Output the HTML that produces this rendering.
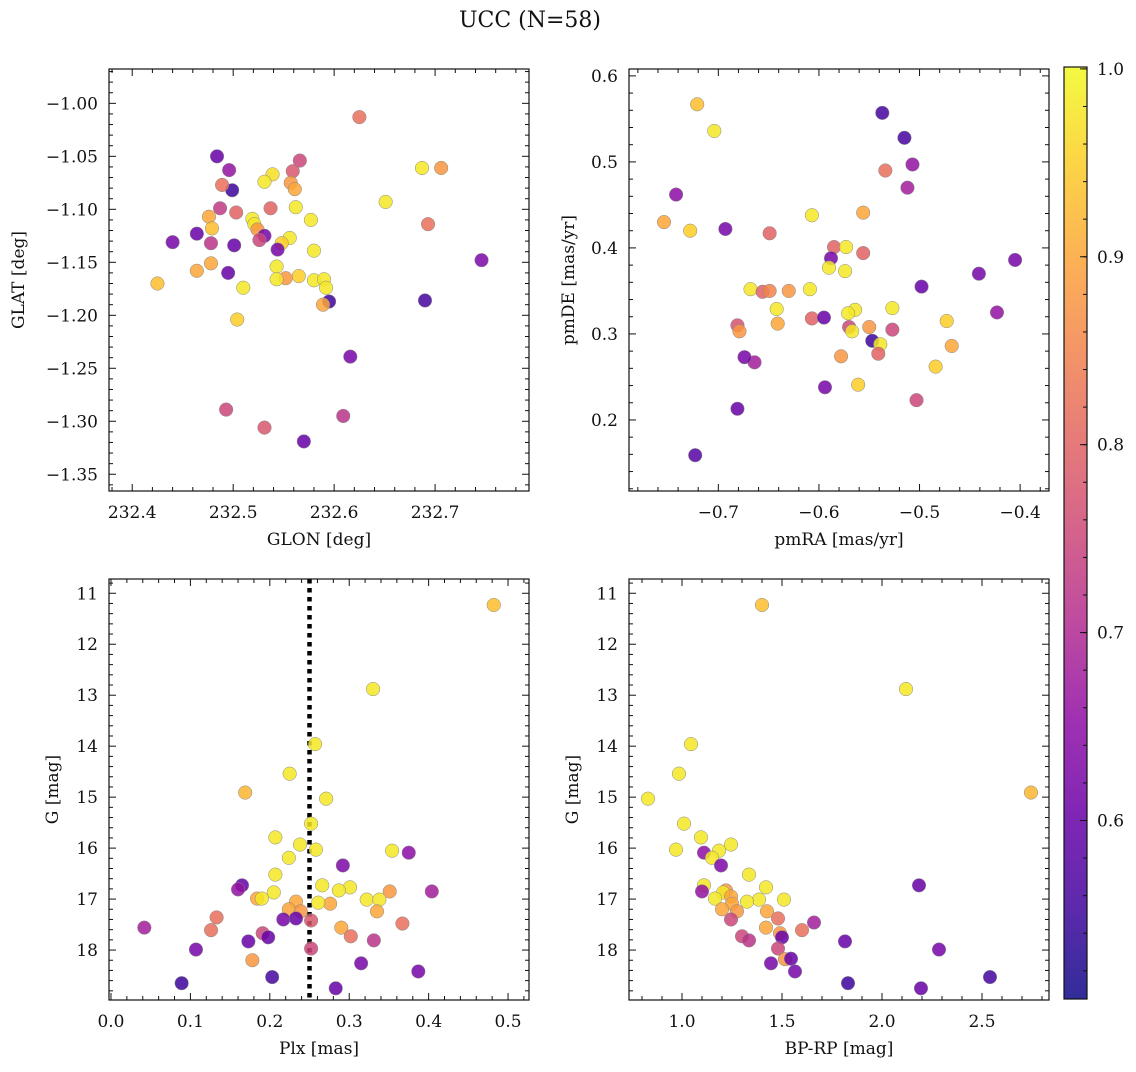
<!DOCTYPE html>
<html><head><meta charset="utf-8">
<style>
html,body{margin:0;padding:0;background:#fff;}
svg text{font-family:"DejaVu Serif","Liberation Serif",serif;fill:#111;}
</style></head>
<body>
<svg id="fig" width="1136" height="1067" xmlns="http://www.w3.org/2000/svg">
<text x="530" y="27" text-anchor="middle" font-size="22">UCC (N=58)</text>
</svg>
<script>
// ---- data: panel 1 (GLON vs GLAT)
const p1Glon=[232.625,232.484,232.496,232.566,232.559,232.539,232.499,232.489,232.531,232.557,232.561,232.687,232.706,232.651,232.487,232.503,232.537,232.562,232.476,232.519,232.521,232.577,232.479,232.524,232.693,232.464,232.531,232.526,232.556,232.440,232.478,232.501,232.548,232.544,232.580,232.746,232.478,232.464,232.495,232.543,232.565,232.552,232.543,232.580,232.590,232.425,232.510,232.592,232.595,232.589,232.690,232.504,232.616,232.493,232.531,232.609,232.570];
const p1Glat=[-1.013,-1.050,-1.063,-1.054,-1.064,-1.067,-1.082,-1.077,-1.074,-1.075,-1.081,-1.061,-1.061,-1.093,-1.099,-1.103,-1.099,-1.098,-1.107,-1.109,-1.114,-1.110,-1.118,-1.119,-1.114,-1.123,-1.125,-1.129,-1.127,-1.131,-1.132,-1.134,-1.132,-1.138,-1.139,-1.148,-1.151,-1.158,-1.160,-1.154,-1.163,-1.165,-1.166,-1.167,-1.166,-1.170,-1.174,-1.174,-1.187,-1.190,-1.186,-1.204,-1.239,-1.289,-1.306,-1.295,-1.319];
const p1Prob=[0.82,0.6,0.66,0.75,0.78,0.97,0.55,0.82,0.98,0.88,0.9,0.98,0.88,0.98,0.73,0.8,0.8,0.98,0.9,0.98,0.98,0.98,0.93,0.88,0.82,0.6,0.62,0.75,0.98,0.62,0.72,0.6,0.95,0.62,0.98,0.63,0.9,0.9,0.6,0.98,0.95,0.88,0.98,0.98,0.98,0.93,0.98,0.98,0.55,0.9,0.56,0.95,0.62,0.75,0.78,0.72,0.6];
// ---- data: panel 2 (pmRA vs pmDE)
const p2PmRA=[-0.721,-0.704,-0.537,-0.515,-0.507,-0.742,-0.534,-0.512,-0.754,-0.728,-0.693,-0.649,-0.607,-0.556,-0.585,-0.573,-0.588,-0.556,-0.405,-0.590,-0.574,-0.668,-0.630,-0.609,-0.656,-0.649,-0.441,-0.498,-0.642,-0.564,-0.571,-0.527,-0.423,-0.681,-0.679,-0.641,-0.607,-0.595,-0.570,-0.567,-0.550,-0.527,-0.473,-0.468,-0.547,-0.539,-0.541,-0.664,-0.674,-0.578,-0.561,-0.594,-0.484,-0.503,-0.681,-0.723];
const p2PmDE=[0.567,0.536,0.557,0.528,0.497,0.462,0.490,0.470,0.430,0.420,0.422,0.417,0.438,0.441,0.401,0.401,0.388,0.394,0.386,0.377,0.373,0.352,0.350,0.352,0.349,0.350,0.370,0.355,0.329,0.328,0.324,0.330,0.325,0.310,0.303,0.312,0.318,0.319,0.308,0.303,0.308,0.305,0.315,0.286,0.292,0.288,0.277,0.267,0.273,0.274,0.241,0.238,0.262,0.223,0.213,0.159];
const p2Prob=[0.93,0.98,0.56,0.56,0.66,0.65,0.82,0.68,0.9,0.95,0.62,0.8,0.98,0.9,0.8,0.98,0.62,0.8,0.62,0.98,0.98,0.98,0.88,0.98,0.8,0.85,0.62,0.6,0.98,0.98,0.98,0.98,0.66,0.77,0.88,0.9,0.8,0.6,0.75,0.98,0.88,0.75,0.95,0.9,0.55,0.98,0.8,0.68,0.62,0.88,0.95,0.62,0.95,0.75,0.6,0.58];
// ---- data: panel 3 (Plx vs G)
const p3Plx=[0.482,0.330,0.257,0.225,0.169,0.271,0.252,0.207,0.238,0.354,0.375,0.258,0.224,0.207,0.292,0.165,0.266,0.160,0.301,0.287,0.205,0.404,0.351,0.184,0.190,0.233,0.276,0.322,0.338,0.224,0.239,0.261,0.335,0.367,0.133,0.217,0.233,0.252,0.042,0.290,0.126,0.191,0.302,0.198,0.331,0.173,0.252,0.107,0.178,0.315,0.387,0.203,0.089,0.283];
const p3G=[11.23,12.88,13.96,14.54,14.91,15.03,15.52,15.79,15.93,16.05,16.09,16.03,16.19,16.52,16.34,16.73,16.73,16.81,16.77,16.83,16.87,16.85,16.85,16.99,16.99,17.05,17.09,17.01,17.01,17.20,17.24,17.07,17.24,17.48,17.36,17.40,17.38,17.42,17.56,17.56,17.61,17.67,17.73,17.75,17.81,17.83,17.97,17.99,18.20,18.26,18.42,18.53,18.65,18.75];
const p3Prob=[0.93,0.98,0.98,0.98,0.92,0.98,0.98,0.98,0.98,0.98,0.65,0.98,0.98,0.98,0.63,0.6,0.98,0.66,0.98,0.98,0.98,0.68,0.88,0.9,0.98,0.9,0.9,0.98,0.98,0.9,0.88,0.98,0.9,0.82,0.82,0.62,0.6,0.78,0.68,0.9,0.82,0.75,0.82,0.6,0.72,0.6,0.75,0.62,0.88,0.62,0.62,0.56,0.55,0.6];
// ---- data: panel 4 (BP-RP vs G)
const p4Col=[1.40,2.12,1.045,0.985,2.745,0.83,1.01,1.095,1.245,0.97,1.185,1.11,1.15,1.195,1.335,2.185,1.11,1.42,1.22,1.10,1.205,1.165,1.245,1.385,1.51,1.325,1.25,1.20,1.275,1.425,1.48,1.245,1.42,1.60,1.49,1.30,1.50,1.335,1.66,1.815,1.48,2.285,1.445,1.515,1.545,1.565,2.54,1.83,2.195];
const p4G=[11.23,12.88,13.96,14.54,14.91,15.03,15.52,15.79,15.93,16.03,16.05,16.09,16.19,16.34,16.52,16.73,16.73,16.77,16.83,16.85,16.87,16.99,16.95,17.01,17.01,17.05,17.09,17.20,17.24,17.24,17.38,17.40,17.56,17.61,17.67,17.73,17.75,17.81,17.46,17.83,17.97,17.99,18.26,18.18,18.17,18.42,18.53,18.65,18.75];
const p4Prob=[0.93,0.98,0.98,0.98,0.92,0.98,0.98,0.98,0.98,0.98,0.98,0.65,0.98,0.63,0.98,0.6,0.98,0.98,0.88,0.66,0.98,0.98,0.9,0.98,0.98,0.98,0.9,0.9,0.88,0.9,0.82,0.75,0.9,0.82,0.88,0.75,0.6,0.72,0.68,0.6,0.75,0.62,0.62,0.88,0.6,0.62,0.56,0.55,0.6];
// ---- colorbar ticks
const cbarTicks=[0.6,0.7,0.8,0.9,1.0];
const VMIN=0.505, VMAX=1.001;

const NS="http://www.w3.org/2000/svg";
const svg=document.getElementById('fig');
function el(tag,attrs,parent){const e=document.createElementNS(NS,tag);for(const k in attrs)e.setAttribute(k,attrs[k]);(parent||svg).appendChild(e);return e;}
const stops=["#0d0887","#41049d","#6a00a8","#8f0da4","#b12a90","#cc4778","#e16462","#f2844b","#fca636","#fcce25","#f0f921"];
function hex(h){return [1,3,5].map(i=>parseInt(h.substr(i,2),16));}
function plasma(t){t=Math.max(0,Math.min(1,t));const f=t*10,i=Math.min(9,Math.floor(f)),r=f-i;const a=hex(stops[i]),b=hex(stops[i+1]);return 'rgb('+a.map((v,k)=>Math.round(v+(b[k]-v)*r)).join(',')+')';}
function cmap(p){return plasma((p-VMIN)/(VMAX-VMIN));}
function fmt(v,d){return v.toFixed(d).replace('-','\u2212');}
const FS=17;

function panel(cfg){
  const {L,T,R,B,x0,x1,y0,y1}=cfg;
  const g=el('g',{});
  
  
  const sx=v=>L+(v-x0)/(x1-x0)*(R-L);
  const sy=v=>T+(v-y0)/(y1-y0)*(B-T);
  if(cfg.extra)cfg.extra(g,sx,sy);
  for(let i=0;i<cfg.xs.length;i++){
    const c=el('circle',{cx:sx(cfg.xs[i]),cy:sy(cfg.ys[i]),r:6.8,fill:cmap(cfg.ps[i]),'fill-opacity':0.85,stroke:'#888','stroke-width':0.5},g);
    
    
  }
  const fr=el('rect',{x:L,y:T,width:R-L,height:B-T,fill:'none',stroke:'#111','stroke-width':1.2},g);
  
  
  const eps=1e-9;
  for(let v=Math.ceil(x0/cfg.xmin-eps)*cfg.xmin;v<=x1+eps;v+=cfg.xmin){
    const x=sx(v);const isMaj=Math.abs(v/cfg.xmaj-Math.round(v/cfg.xmaj))<1e-6;const len=isMaj?7:4;
    el('line',{x1:x,x2:x,y1:B,y2:B-len,stroke:'#111','stroke-width':1},g);
    el('line',{x1:x,x2:x,y1:T,y2:T+len,stroke:'#111','stroke-width':1},g);
    if(isMaj){const t=el('text',{x:x,y:B+27,'text-anchor':'middle','font-size':FS},g);t.textContent=fmt(v,cfg.xd);
      }
  }
  const ylo=Math.min(y0,y1),yhi=Math.max(y0,y1);
  for(let v=Math.ceil(ylo/cfg.ymin-eps)*cfg.ymin;v<=yhi+eps;v+=cfg.ymin){
    const y=sy(v);const isMaj=Math.abs(v/cfg.ymaj-Math.round(v/cfg.ymaj))<1e-6;const len=isMaj?7:4;
    el('line',{x1:L,x2:L+len,y1:y,y2:y,stroke:'#111','stroke-width':1},g);
    el('line',{x1:R,x2:R-len,y1:y,y2:y,stroke:'#111','stroke-width':1},g);
    if(isMaj){const t=el('text',{x:L-11,y:y+6,'text-anchor':'end','font-size':FS},g);t.textContent=fmt(v,cfg.yd);
      }
  }
  const xl=el('text',{x:(L+R)/2,y:B+54,'text-anchor':'middle','font-size':FS},g);xl.textContent=cfg.xlab;
  
  const yl=el('text',{x:cfg.ylx,y:(T+B)/2,'text-anchor':'middle','font-size':FS,transform:'rotate(-90 '+cfg.ylx+' '+((T+B)/2)+')'},g);yl.textContent=cfg.ylab;
  
}

panel({name:'glon-glat-panel',L:109,T:69,R:529,B:491,x0:232.377,x1:232.793,y0:-0.9676,y1:-1.3658,xmaj:0.1,xmin:0.02,ymaj:0.05,ymin:0.01,xd:1,yd:2,xs:p1Glon,ys:p1Glat,ps:p1Prob,xlab:'GLON [deg]',ylab:'GLAT [deg]',ylx:24});
panel({name:'pm-panel',L:629,T:69,R:1049,B:491,x0:-0.7888,x1:-0.3713,y0:0.608,y1:0.1174,xmaj:0.1,xmin:0.02,ymaj:0.1,ymin:0.02,xd:1,yd:1,xs:p2PmRA,ys:p2PmDE,ps:p2Prob,xlab:'pmRA [mas/yr]',ylab:'pmDE [mas/yr]',ylx:574});
panel({name:'plx-g-panel',L:109,T:579,R:529,B:1000,x0:-0.0025,x1:0.5264,y0:10.72,y1:18.98,xmaj:0.1,xmin:0.02,ymaj:1,ymin:0.2,xd:1,yd:0,xs:p3Plx,ys:p3G,ps:p3Prob,xlab:'Plx [mas]',ylab:'G [mag]',ylx:58,
  extra:(g,sx,sy)=>{const l=el('line',{x1:sx(0.25),x2:sx(0.25),y1:579,y2:1000,stroke:'#000','stroke-width':4.5,'stroke-dasharray':'4.5 4.5'},g);
    }});
panel({name:'cmd-panel',L:629,T:579,R:1049,B:1000,x0:0.735,x1:2.835,y0:10.72,y1:18.98,xmaj:0.5,xmin:0.1,ymaj:1,ymin:0.2,xd:1,yd:0,xs:p4Col,ys:p4G,ps:p4Prob,xlab:'BP-RP [mag]',ylab:'G [mag]',ylx:578});

(function(){
  const L=1064,R=1087,T=67,B=999;
  const g=el('g',{});
  
  
  const defs=el('defs',{},g);
  const lg=el('linearGradient',{id:'cg',x1:0,y1:1,x2:0,y2:0},defs);
  for(let i=0;i<=20;i++){const t=i/20;el('stop',{offset:t,'stop-color':plasma(t)},lg);}
  el('rect',{x:L,y:T,width:R-L,height:B-T,fill:'url(#cg)','fill-opacity':0.85},g);
  el('rect',{x:L,y:T,width:R-L,height:B-T,fill:'none',stroke:'#111','stroke-width':1.2},g);
  const sy=v=>B-(v-VMIN)/(VMAX-VMIN)*(B-T);
  for(let k=26;k<=50;k++){const v=k*0.02;if(v<VMIN||v>VMAX)continue;
    el('line',{x1:R,x2:R-4,y1:sy(v),y2:sy(v),stroke:'#111','stroke-width':1},g);}
  cbarTicks.forEach(v=>{const y=sy(v);el('line',{x1:R,x2:R-7,y1:y,y2:y,stroke:'#111','stroke-width':1},g);
    const t=el('text',{x:R+10,y:y+6,'font-size':FS},g);t.textContent=v.toFixed(1);
    });
})();
</script>
</body></html>
